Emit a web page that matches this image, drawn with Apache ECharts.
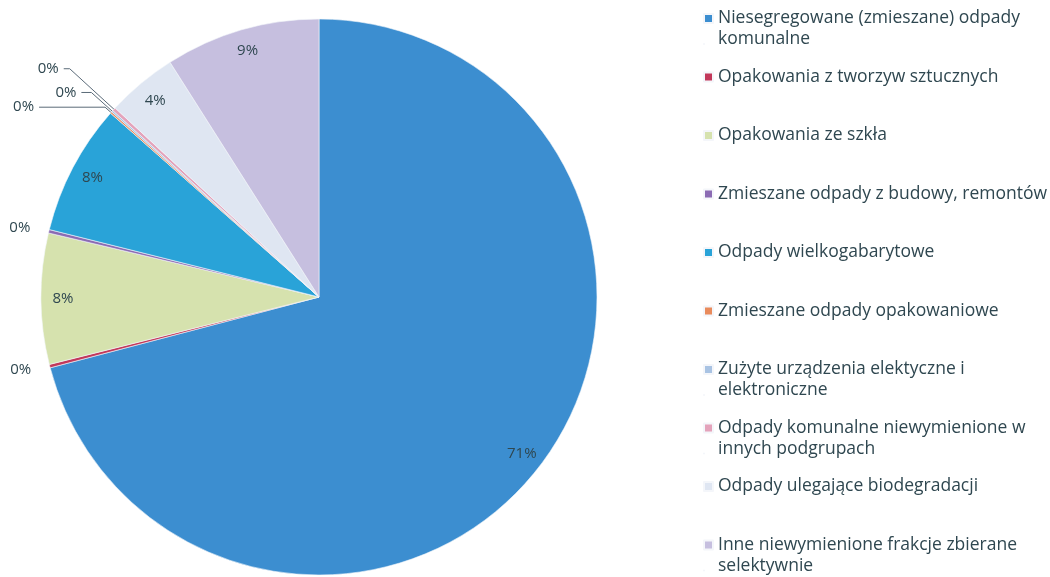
<!DOCTYPE html>
<html>
<head>
<meta charset="utf-8">
<script src="https://cdn.jsdelivr.net/npm/echarts@6/dist/echarts.min.js"></script>
<style>
  html, body { margin: 0; padding: 0; background: #fff; }
  #chart { width: 1050px; height: 577px; }
</style>
</head>
<body>
<div id="chart"></div>
<script>
// kategorie odpadów (kolejność jak w legendzie)
const categories = [
  'Niesegregowane (zmieszane) odpady\nkomunalne',
  'Opakowania z tworzyw sztucznych',
  'Opakowania ze szkła',
  'Zmieszane odpady z budowy, remontów',
  'Odpady wielkogabarytowe',
  'Zmieszane odpady opakowaniowe',
  'Zużyte urządzenia elektyczne i\nelektroniczne',
  'Odpady komunalne niewymienione w\ninnych podgrupach',
  'Odpady ulegające biodegradacji',
  'Inne niewymienione frakcje zbierane\nselektywnie'
];
// udział procentowy
const shares = [70.9, 0.2, 7.6, 0.2, 7.6, 0.1, 0.1, 0.2, 4.1, 9.0];
const colors = ['#3c8ed0', '#c2385a', '#d6e2ae', '#8b6bb3', '#29a3d8',
                '#e98b5c', '#a9c3e3', '#e4a3bb', '#dfe6f2', '#c6bfdf'];

const center = [319, 297];
const R = 278;
const txt = '#2f4750';
const font = 'Open Sans';

// linie odnośników dla małych wycinków: [length, length2]
const leader = {
  1: [14, 0], 3: [14, 0],
  5: [8, 66], 6: [28, 10], 7: [60, 6]
};

const chart = echarts.init(document.getElementById('chart'));

const mainData = categories.map((name, i) => {
  const small = shares[i] < 0.5;
  const ld = leader[i] || [8, 20];
  return {
    name: name,
    value: shares[i],
    itemStyle: { color: colors[i] },
    label: { show: small },
    labelLine: { show: small && i > 4, length: ld[0], length2: ld[1] }
  };
});

const labelData = categories.map((name, i) => ({
  name: name,
  value: shares[i],
  label: { show: shares[i] >= 0.5 }
}));

// osobna legenda dla każdej pozycji, równe odstępy jak w oryginale
const legends = categories.map((name, i) => {
  const twoLines = name.indexOf('\n') >= 0;
  return {
    orient: 'vertical',
    left: 703,
    top: 8 + i * 58.5,
    padding: 0,
    itemWidth: 9,
    itemHeight: twoLines ? 30 : 9,
    icon: twoLines ? 'path://M0,0H9V9H0ZM0,30H0.01Z' : 'rect',
    selectedMode: false,
    data: [name],
    textStyle: { fontFamily: font, fontSize: 17.5, color: txt, lineHeight: 21 }
  };
});

chart.setOption({
  animation: false,
  legend: legends,
  series: [
    {
      type: 'pie',
      center: center,
      radius: R,
      startAngle: 90,
      clockwise: true,
      avoidLabelOverlap: false,
      itemStyle: { borderColor: '#f4f6fa', borderWidth: 0.6 },
      label: {
        position: 'outside',
        fontFamily: font,
        fontSize: 15,
        color: txt,
        formatter: p => Math.round(p.value) + '%'
      },
      labelLine: {
        lineStyle: { color: '#5a6a78', width: 1 }
      },
      emphasis: { disabled: true },
      data: mainData
    },
    {
      // nakładka tylko z etykietami wewnątrz wycinków
      type: 'pie',
      center: center,
      radius: [R * 0.82, R],
      startAngle: 90,
      clockwise: true,
      silent: true,
      itemStyle: { color: 'rgba(0,0,0,0)' },
      label: {
        position: 'inside',
        fontFamily: font,
        fontSize: 15,
        color: txt,
        formatter: p => Math.round(p.value) + '%'
      },
      labelLine: { show: false },
      emphasis: { disabled: true },
      data: labelData
    }
  ]
});
</script>
</body>
</html>
